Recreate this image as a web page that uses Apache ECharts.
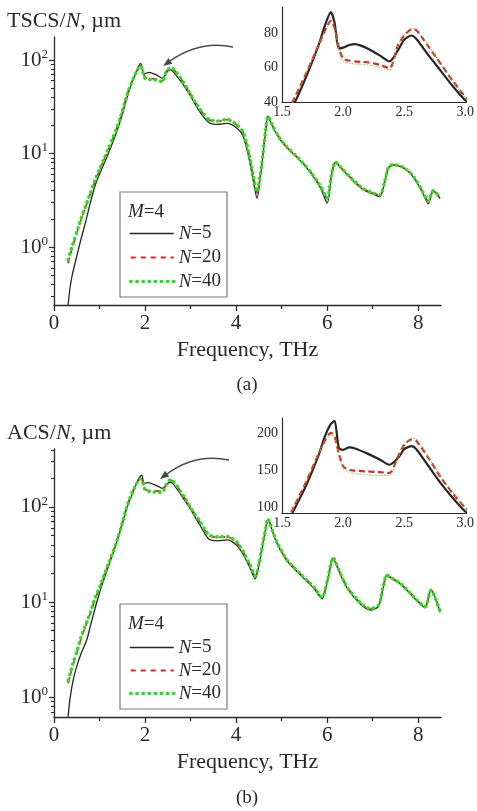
<!DOCTYPE html>
<html>
<head>
<meta charset="utf-8">
<script src="https://cdn.jsdelivr.net/npm/echarts@6/dist/echarts.min.js"></script>
<style>
  html, body { margin: 0; padding: 0; background: #fff; }
  #chart { width: 477px; height: 811px; }
</style>
</head>
<body>
<div id="chart"></div>
<script>
// ---- (a) total scattering cross-section per particle, µm ----
const freqA = [0.31,0.35,0.4,0.5,0.6,0.7,0.8,0.9,1.0,1.1,1.2,1.3,1.4,1.5,1.6,1.7,1.8,1.85,1.9,1.93,1.965,2.0,2.05,2.1,2.15,2.2,2.3,2.38,2.45,2.5,2.56,2.6,2.7,2.8,2.9,3.0,3.2,3.4,3.6,3.8,4.0,4.15,4.27,4.38,4.46,4.52,4.57,4.64,4.7,4.82,4.97,5.12,5.4,5.63,5.85,6.0,6.1,6.18,6.35,6.57,6.79,7.0,7.16,7.27,7.35,7.45,7.65,7.83,7.97,8.11,8.22,8.33,8.48];
const tscsN5 = [0.24,0.36,0.5,0.8,1.25,1.9,3.0,4.5,6.0,7.8,10.2,13.5,18.5,26,39,55,73,84,92,86,71,71.5,73,73.5,72.5,71,67,63.5,70,76,78.5,76.5,67,58,49,41,28,21.5,20.5,21,19,15.5,9.5,5,3.3,5,7.9,16,24.5,18.5,14,11.5,8.5,6.3,4.3,2.95,6,8,6.6,5.1,4.1,3.7,3.45,5.1,7.1,7.5,7.1,6.1,4.9,3.7,2.9,4.0,3.3];
const tscsN20 = [0.67,0.8,0.98,1.4,2.0,2.75,3.7,5.0,6.6,8.6,11.2,14.8,20,28,42,57,73,81,87,83,72,65,64,63.5,63.2,63,61.5,59.5,73,78.5,82,81.5,72,62,52,43,30,23,22,23,20.5,17,10.5,5.6,3.8,5.4,8.2,16.5,25,19,14.2,11.6,8.6,6.4,4.5,3.3,6.2,8.1,6.7,5.2,4.2,3.8,3.6,5.2,7.2,7.6,7.2,6.2,5.0,3.8,3.1,4.0,3.4];
const tscsN40 = [0.73,0.86,1.03,1.45,2.05,2.8,3.8,5.2,6.8,8.8,11.4,15,20.3,28.3,42,57,73,80.5,86.5,82,70.5,63.5,62.5,62,61.8,61.5,60,58.5,73,79,82.5,82,72.5,62,52,42.5,30,23.2,22.3,23.2,20.6,17.1,10.6,5.7,3.9,5.5,8.3,16.6,25,19,14.3,11.7,8.6,6.4,4.5,3.35,6.2,8.1,6.7,5.2,4.2,3.8,3.6,5.2,7.2,7.6,7.2,6.2,5.0,3.8,3.1,4.0,3.4];

// ---- (b) absorption cross-section per particle, µm ----
const freqB = [0.31,0.35,0.42,0.5,0.6,0.72,0.8,0.9,1.0,1.1,1.2,1.3,1.4,1.5,1.6,1.7,1.8,1.85,1.9,1.93,1.965,2.0,2.05,2.1,2.2,2.3,2.38,2.45,2.5,2.56,2.6,2.7,2.8,2.9,3.0,3.2,3.4,3.6,3.8,4.0,4.15,4.31,4.42,4.5,4.57,4.64,4.7,4.8,4.9,5.12,5.4,5.7,5.89,6.0,6.13,6.29,6.43,6.73,6.95,7.13,7.23,7.31,7.45,7.6,7.75,7.97,8.15,8.28,8.48];
const acsN5 = [0.62,0.95,1.5,2.1,2.9,4.0,5.6,8.5,12.5,17.5,24,33,46,66,97,130,170,195,212,216,180,177,180.5,179,172,164,157,166,178,182,178,155,132,112,94,65,46,44,45,40,32,22.5,17.5,24,36,55,74,55,41,27,19.5,14,10.8,16,28.5,19.5,14.2,9.5,8.2,9.0,14,19,17.3,15.6,13.3,10.3,8.7,13.5,7.8];
const acsN20 = [1.4,1.65,2.2,2.9,4.2,6.0,7.6,10.8,14,19,25.5,34,47,68,101,135,172,189,200,195,172,155,150,149,148,147,146,168,184,191,189,166,140,118,99,70,50,48,48.5,43,34,24,18.5,25,37,56,75,56,42,27.6,20,14.5,11.2,16.5,29,20,14.5,9.7,8.4,9.2,14.5,19.2,17.5,15.8,13.5,10.5,8.9,13.4,7.9];
const acsN40 = [1.5,1.75,2.3,3.0,4.4,6.2,7.8,11,14.2,19.2,25.7,34.2,47.2,68,101,135,172,188,198,193,170,152,147,145,143.5,142.5,143,166,184,193,191,167,141,119,98,71,51,48.5,49,43.5,34.3,24.2,18.8,25.2,37.2,56,75,56,42,27.6,20,14.5,11.3,16.5,29,20,14.5,9.8,8.5,9.3,14.5,19.2,17.5,15.8,13.5,10.5,8.9,13.3,7.9];

// ---- names and ticks ----
const seriesNames = ['N=5', 'N=20', 'N=40'];
const freqMajor = [0, 2, 4, 6, 8];
const freqMinor = [1, 3, 5, 7];
const decades = [1, 10, 100];
const insetFreqTicks = [1.5, 2.0, 2.5, 3.0];
const insetTicksA = [40, 60, 80];
const insetTicksB = [100, 150, 200];

const SERIF = 'Liberation Serif';
const INK = '#2a2a2a';

const lg = Math.log10;
const pairs = (xs, ys, log) => xs.map((x, i) => [x, log ? lg(ys[i]) : ys[i]]);
// minor tick positions 2..9 per decade, in log10 units
function minorLogTicks(lo, hi) {
  const out = [];
  for (let e = -2; e <= 3; e++) {
    for (let k = 2; k <= 9; k++) {
      const v = lg(k * Math.pow(10, e));
      if (v >= lo && v <= hi) out.push(v);
    }
  }
  return out;
}

const grids = [
  { left: 54, top: 37, width: 387, height: 268 },   // (a) main
  { left: 282, top: 7, width: 185, height: 95 },    // (a) inset
  { left: 54, top: 449, width: 387, height: 268 },  // (b) main
  { left: 282, top: 418, width: 185, height: 95 }   // (b) inset
];

const axisLine = { show: true, onZero: false, lineStyle: { color: INK, width: 1.3 } };
const noSplit = { show: false };

function mainX(grid) {
  return [
    {
      type: 'value', gridIndex: grid, position: 'bottom', min: 0, max: 8.5,
      axisLine, splitLine: noSplit,
      axisTick: { show: true, customValues: freqMajor, length: 6, lineStyle: { color: INK, width: 1.3 } },
      axisLabel: { customValues: freqMajor, fontFamily: SERIF, fontSize: 21, color: INK, margin: 8 },
      name: 'Frequency, THz', nameLocation: 'middle', nameGap: 34,
      nameTextStyle: { fontFamily: SERIF, fontSize: 22, color: INK }
    },
    {
      type: 'value', gridIndex: grid, position: 'bottom', min: 0, max: 8.5,
      axisLine: { show: false, onZero: false }, splitLine: noSplit, axisLabel: { show: false },
      axisTick: { show: true, customValues: freqMinor, length: 4, lineStyle: { color: INK, width: 1.3 } }
    }
  ];
}
function insetX(grid) {
  return {
    type: 'value', gridIndex: grid, position: 'bottom', min: 1.5, max: 3.0, interval: 0.5,
    axisLine: { show: true, onZero: false, lineStyle: { color: INK, width: 1.2 } }, splitLine: noSplit,
    axisTick: { show: false },
    axisLabel: { customValues: insetFreqTicks, formatter: v => v.toFixed(1), fontFamily: SERIF, fontSize: 14, color: INK, margin: 3 }
  };
}
function mainY(grid, lo, hi) {
  return [
    {
      type: 'value', gridIndex: grid, position: 'left', min: lo, max: hi,
      axisLine, splitLine: noSplit,
      axisTick: { show: true, customValues: decades.map(lg), length: 5, lineStyle: { color: INK, width: 1.3 } },
      axisLabel: {
        customValues: decades.map(lg), margin: 6,
        formatter: v => '10{s|' + Math.round(v) + '}',
        fontFamily: SERIF, fontSize: 21, color: INK,
        rich: { s: { fontFamily: SERIF, fontSize: 13, color: INK, padding: [0, 0, 11, 0] } }
      }
    },
    {
      type: 'value', gridIndex: grid, position: 'left', min: lo, max: hi,
      axisLine: { show: false, onZero: false }, splitLine: noSplit, axisLabel: { show: false },
      axisTick: { show: true, customValues: minorLogTicks(lo, hi), length: 3, lineStyle: { color: INK, width: 1.1 } }
    }
  ];
}
function insetY(grid, lo, hi, ticks) {
  return {
    type: 'value', gridIndex: grid, position: 'left', min: lo, max: hi,
    axisLine: { show: true, onZero: false, lineStyle: { color: INK, width: 1.2 } }, splitLine: noSplit,
    axisTick: { show: false },
    axisLabel: { customValues: ticks, fontFamily: SERIF, fontSize: 14, color: INK, margin: 4 }
  };
}

const xAxis = [...mainX(0), insetX(1), ...mainX(2), insetX(3)];
const yAxis = [...mainY(0, -0.62, 2.246), insetY(1, 40, 95, insetTicksA), ...mainY(2, -0.21, 2.61), insetY(3, 92, 220, insetTicksB)];

// line looks: main panels and insets
const mainStyles = [
  { color: '#262626', width: 1.3, type: 'solid' },
  { color: '#f21c1c', width: 1.7, type: [6, 4] },
  { color: '#1fe41f', width: 3.4, type: [0.5, 5], cap: 'round' }
];
const insetStyles = [
  { color: '#262626', width: 2.2, type: 'solid' },
  { color: '#f21c1c', width: 2.2, type: [6, 3.5] },
  { color: '#38e838', width: 1.1, type: [1.2, 1.8] }
];
// legend keys drawn a touch bolder than the plotted lines
const keyStyles = [
  { color: '#262626', width: 1.4, type: 'solid' },
  { color: '#f21c1c', width: 2.2, type: [5, 5], dashOffset: -1 },
  { color: '#1fe41f', width: 3.4, type: [0.5, 5.6], cap: 'round' }
];

function lineSeries(name, data, xi, yi, style, z) {
  return {
    type: 'line', name, data, xAxisIndex: xi, yAxisIndex: yi,
    symbol: 'none', smooth: 0.25, clip: true, z,
    lineStyle: Object.assign({}, style), color: style.color,
    emphasis: { disabled: true }, silent: true
  };
}

const tscsSets = [tscsN5, tscsN20, tscsN40];
const acsSets = [acsN5, acsN20, acsN40];
const series = [];
seriesNames.forEach((n, i) => {
  series.push(lineSeries(n, pairs(freqA, tscsSets[i], true), 0, 0, mainStyles[i], 2 + i));
  series.push(lineSeries(n, pairs(freqA, tscsSets[i], false), 2, 2, insetStyles[i], 2 + i));
  series.push(lineSeries(n, pairs(freqB, acsSets[i], true), 3, 3, mainStyles[i], 2 + i));
  series.push(lineSeries(n, pairs(freqB, acsSets[i], false), 5, 5, insetStyles[i], 2 + i));
});

function legendAt(top, gap) {
  return {
    data: seriesNames.map((n, i) => ({
      name: n,
      itemStyle: { opacity: 0 },
      lineStyle: Object.assign({}, keyStyles[i])
    })),
    orient: 'vertical', left: 123, top,
    itemWidth: 44, itemHeight: 14, itemGap: gap, selectedMode: false,
    formatter: n => '{i|N}' + n.slice(1),
    textStyle: {
      fontFamily: SERIF, fontSize: 19, color: INK,
      rich: { i: { fontFamily: SERIF, fontSize: 19, fontStyle: 'italic', color: INK } }
    }
  };
}

function richTitle(x, y, lead) {
  return {
    type: 'text', x, y, silent: true,
    style: {
      text: '{r|' + lead + '/}{i|N}{r|, µm}', verticalAlign: 'middle',
      rich: {
        r: { fontFamily: SERIF, fontSize: 22, fill: INK },
        i: { fontFamily: SERIF, fontSize: 22, fontStyle: 'italic', fill: INK }
      }
    }
  };
}
function panelTag(label, y) {
  return {
    type: 'text', x: 247, y, silent: true,
    style: { text: label, fontFamily: SERIF, fontSize: 19, fill: INK, align: 'center', verticalAlign: 'middle' }
  };
}
function legendFrame(x, y, w, h, labelY) {
  return [
    { type: 'rect', shape: { x, y, width: w, height: h }, silent: true,
      style: { fill: '#fff', stroke: '#7a7a7a', lineWidth: 1.2 }, z: 1 },
    { type: 'text', x: x + 8, y: labelY, silent: true, z: 2,
      style: {
        text: '{i|M}{r|=4}', verticalAlign: 'middle',
        rich: {
          r: { fontFamily: SERIF, fontSize: 19, fill: INK },
          i: { fontFamily: SERIF, fontSize: 19, fontStyle: 'italic', fill: INK }
        }
      } }
  ];
}
// curved pointer from the inset toward the peak region
function pointer(x1, y1, cx, cy, x2, y2, head) {
  return [
    { type: 'bezierCurve', silent: true,
      shape: { x1, y1, cpx1: cx, cpy1: cy, x2, y2 },
      style: { fill: null, stroke: '#4a4a4a', lineWidth: 1.3 } },
    { type: 'polygon', silent: true, shape: { points: head },
      style: { fill: '#4a4a4a' } }
  ];
}

const graphic = [
  richTitle(7, 21, 'TSCS'),
  richTitle(7, 433, 'ACS'),
  panelTag('(a)', 385),
  panelTag('(b)', 798),
  ...legendFrame(120, 192, 107, 105, 212),
  ...legendFrame(120, 604, 107, 105, 624),
  ...pointer(233, 47, 200, 40, 170, 61, [[163, 66], [172.4, 63.8], [168.4, 58]]),
  ...pointer(229, 460, 195, 453, 167, 474, [[160, 479], [169.3, 476.4], [165.1, 470.8]])
];

const chart = echarts.init(document.getElementById('chart'), null, { renderer: 'canvas' });
chart.setOption({
  backgroundColor: '#ffffff',
  animation: false,
  grid: grids,
  xAxis, yAxis, series,
  legend: [legendAt(219, 5), legendAt(633, 4)],
  graphic
});
</script>
</body>
</html>
